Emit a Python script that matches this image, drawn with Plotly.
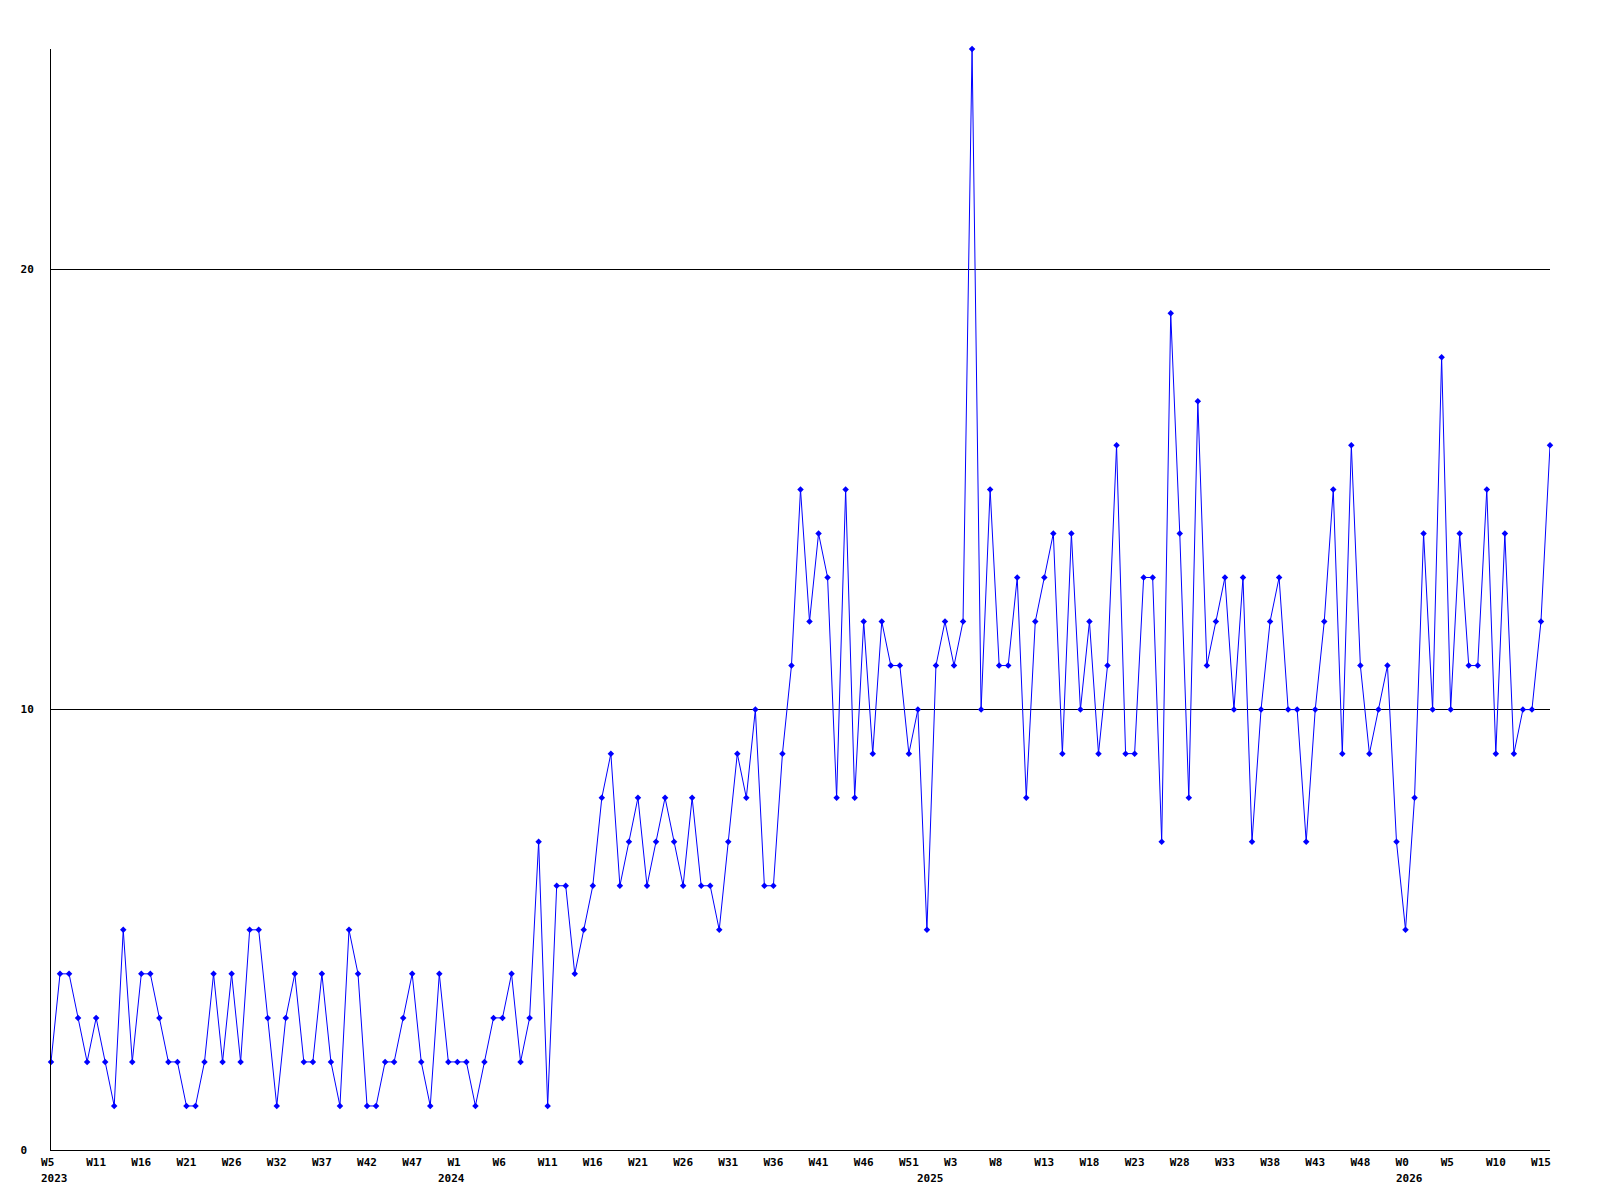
"""
Weekly counts, 2023 W5 to 2026 W15.
"""

import plotly.graph_objects as go

# weekly values, one per week from 2023 W5 onwards
values = [
    2, 4, 4, 3, 2, 3, 2, 1, 5, 2,
    4, 4, 3, 2, 2, 1, 1, 2, 4, 2,
    4, 2, 5, 5, 3, 1, 3, 4, 2, 2,
    4, 2, 1, 5, 4, 1, 1, 2, 2, 3,
    4, 2, 1, 4, 2, 2, 2, 1, 2, 3,
    3, 4, 2, 3, 7, 1, 6, 6, 4, 5,
    6, 8, 9, 6, 7, 8, 6, 7, 8, 7,
    6, 8, 6, 6, 5, 7, 9, 8, 10, 6,
    6, 9, 11, 15, 12, 14, 13, 8, 15, 8,
    12, 9, 12, 11, 11, 9, 10, 5, 11, 12,
    11, 12, 25, 10, 15, 11, 11, 13, 8, 12,
    13, 14, 9, 14, 10, 12, 9, 11, 16, 9,
    9, 13, 13, 7, 19, 14, 8, 17, 11, 12,
    13, 10, 13, 7, 10, 12, 13, 10, 10, 7,
    10, 12, 15, 9, 16, 11, 9, 10, 11, 7,
    5, 8, 14, 10, 18, 10, 14, 11, 11, 15,
    9, 14, 9, 10, 10, 12, 16,
]
week_index = list(range(len(values)))

# x tick labels, one every 5 weeks
tick_index = list(range(0, 166, 5))
tick_labels = [
    "W5", "W11", "W16", "W21", "W26", "W32", "W37", "W42", "W47",
    "W1", "W6", "W11", "W16", "W21", "W26", "W31", "W36", "W41", "W46", "W51",
    "W3", "W8", "W13", "W18", "W23", "W28", "W33", "W38", "W43", "W48",
    "W0", "W5", "W10", "W15",
]

year_labels = ["2023", "2024", "2025", "2026"]
year_index = [0, 44, 97, 150]

y_ticks = [0, 10, 20]

FONT = "DejaVu Sans Mono"
BLUE = "#0000ff"

fig = go.Figure()

fig.add_trace(
    go.Scatter(
        x=week_index,
        y=values,
        mode="lines+markers",
        line=dict(color=BLUE, width=1),
        marker=dict(color=BLUE, size=5, symbol="diamond"),
        cliponaxis=False,
        showlegend=False,
        hoverinfo="skip",
    )
)

# pad labels to 3 chars so they sit left-aligned like the original
padded = [t + "\u00a0" * (3 - len(t)) for t in tick_labels]

for yr, idx in zip(year_labels, year_index):
    fig.add_annotation(
        x=idx, y=0, xref="x", yref="paper",
        text=f"<b>{yr}</b>", showarrow=False,
        xanchor="left", yanchor="middle",
        xshift=-12, yshift=-28,
        font=dict(family=FONT, size=11, color="black"),
    )

# page body adds an 8px offset, margins compensate for it
fig.update_layout(
    width=1600,
    height=1200,
    margin=dict(l=43, r=58, t=41, b=58),
    plot_bgcolor="white",
    paper_bgcolor="white",
    font=dict(family=FONT, size=11, color="black"),
)

fig.update_xaxes(
    range=[0, len(values) - 1],
    tickvals=tick_index,
    ticktext=[f"<b>{t}</b>" for t in padded],
    ticks="",
    ticklabelstandoff=2,
    showgrid=False,
    zeroline=False,
    showline=True,
    linecolor="black",
    linewidth=1,
)

fig.update_yaxes(
    range=[0, 25],
    tickvals=y_ticks,
    ticktext=["<b>0\u00a0</b>", "<b>10</b>", "<b>20</b>"],
    ticks="",
    ticklabelstandoff=14,
    showgrid=True,
    gridcolor="black",
    gridwidth=1,
    zeroline=False,
    showline=True,
    linecolor="black",
    linewidth=1,
)

fig.write_html("out.html")
